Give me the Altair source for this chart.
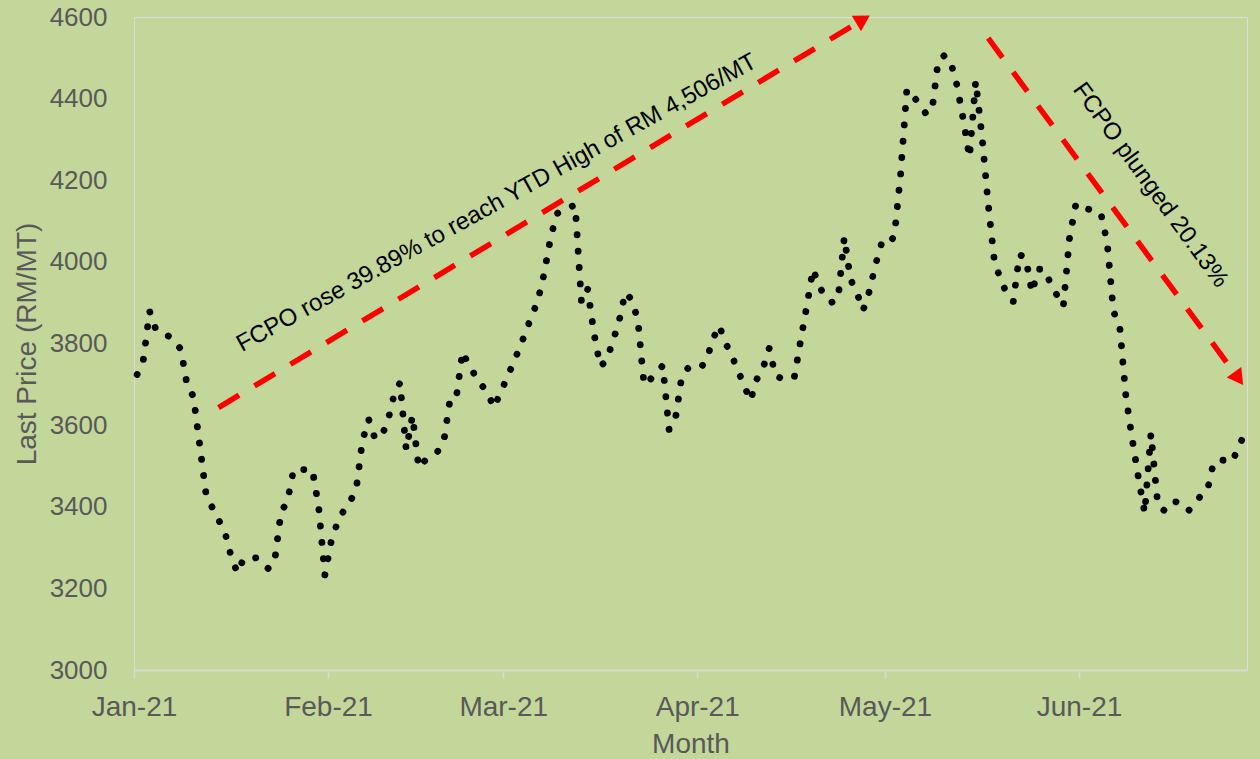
import altair as alt
import pandas as pd

# ---- price path (date, last price RM/MT) ----
dates = [
    "2021-01-01", "2021-01-02", "2021-01-03", "2021-01-04", "2021-01-05", "2021-01-07", "2021-01-08",
    "2021-01-09", "2021-01-10", "2021-01-12", "2021-01-13", "2021-01-15", "2021-01-16", "2021-01-17",
    "2021-01-18", "2021-01-20", "2021-01-22", "2021-01-23", "2021-01-24", "2021-01-25", "2021-01-26",
    "2021-01-29", "2021-01-30", "2021-01-31",
    "2021-02-01", "2021-02-02", "2021-02-03", "2021-02-04", "2021-02-05", "2021-02-06", "2021-02-07",
    "2021-02-08", "2021-02-09", "2021-02-10", "2021-02-11", "2021-02-12", "2021-02-13", "2021-02-14",
    "2021-02-15", "2021-02-16", "2021-02-18", "2021-02-19", "2021-02-20", "2021-02-21", "2021-02-22",
    "2021-02-23", "2021-02-25", "2021-02-26", "2021-02-27", "2021-02-28",
    "2021-03-02", "2021-03-03", "2021-03-04", "2021-03-05", "2021-03-06", "2021-03-07", "2021-03-08",
    "2021-03-09", "2021-03-10", "2021-03-12", "2021-03-13", "2021-03-14", "2021-03-15", "2021-03-16",
    "2021-03-17", "2021-03-18", "2021-03-19", "2021-03-20", "2021-03-21", "2021-03-22", "2021-03-23",
    "2021-03-24", "2021-03-26", "2021-03-27", "2021-03-28", "2021-03-29", "2021-03-30",
    "2021-04-01", "2021-04-02", "2021-04-03", "2021-04-04", "2021-04-05", "2021-04-06", "2021-04-07",
    "2021-04-08", "2021-04-09", "2021-04-10", "2021-04-11", "2021-04-12", "2021-04-13", "2021-04-14",
    "2021-04-16", "2021-04-17", "2021-04-18", "2021-04-19", "2021-04-20", "2021-04-21", "2021-04-22",
    "2021-04-23", "2021-04-24", "2021-04-25", "2021-04-26", "2021-04-27", "2021-04-28", "2021-04-29",
    "2021-04-30",
    "2021-05-01", "2021-05-02", "2021-05-03", "2021-05-04", "2021-05-05", "2021-05-06", "2021-05-07",
    "2021-05-08", "2021-05-09", "2021-05-10", "2021-05-11", "2021-05-12", "2021-05-13", "2021-05-14",
    "2021-05-15", "2021-05-16", "2021-05-17", "2021-05-18", "2021-05-19", "2021-05-20", "2021-05-21",
    "2021-05-22", "2021-05-23", "2021-05-24", "2021-05-25", "2021-05-26", "2021-05-27", "2021-05-28",
    "2021-05-29", "2021-05-30", "2021-05-31",
    "2021-06-01", "2021-06-02", "2021-06-03", "2021-06-04", "2021-06-05", "2021-06-06", "2021-06-07",
    "2021-06-08", "2021-06-09", "2021-06-10", "2021-06-11", "2021-06-12", "2021-06-13", "2021-06-14",
    "2021-06-15", "2021-06-16", "2021-06-17", "2021-06-18", "2021-06-19", "2021-06-20", "2021-06-21",
    "2021-06-22", "2021-06-23", "2021-06-24", "2021-06-25", "2021-06-26", "2021-06-27",
]
prices = [
    3724, 3761, 3879, 3834, 3829, 3807, 3785,
    3697, 3670, 3432, 3398, 3339, 3280, 3238,
    3272, 3275, 3248, 3270, 3388, 3412, 3491,
    3491, 3400, 3233,
    3314, 3361, 3390, 3412, 3442, 3562, 3614,
    3567, 3572, 3606, 3670, 3704, 3540, 3623,
    3496, 3513, 3535, 3560, 3663, 3667, 3780,
    3746, 3699, 3680, 3643, 3677,
    3748, 3785, 3824, 3866, 3903, 3969, 4053,
    4117, 4128, 4139, 3901, 3933, 3825, 3744,
    3758, 3805, 3854, 3925, 3908, 3859, 3699,
    3712, 3746, 3589, 3614, 3717, 3739,
    3739, 3761, 3810, 3844, 3802, 3771, 3734,
    3697, 3660, 3712, 3739, 3788, 3721, 3714,
    3716, 3805, 3891, 3982, 3940, 3913, 3901,
    3908, 4060, 3957, 3925, 3881, 3928, 3994,
    4048,
    4043, 4063, 4215, 4423, 4406, 4387, 4364,
    4369, 4492, 4506, 4490, 4433, 4350, 4256,
    4443, 4308, 4141, 3999, 3957, 3920, 3903,
    4018, 4009, 3925, 3982, 3982, 3945, 3918,
    3891, 4060, 4141,
    4141, 4129, 4124, 4119, 4048, 3879, 3844,
    3670, 3567, 3471, 3385, 3579, 3420, 3390,
    3412, 3412, 3402, 3390, 3410, 3427, 3439,
    3508, 3515, 3513, 3510, 3547, 3579,
]

# ---- annotation arrows (start / end in data units) ----
arrow_start_dates = ["2021-01-14", "2021-05-17"]
arrow_start_prices = [3643, 4548]
arrow_end_dates = ["2021-04-27", "2021-06-26"]
arrow_end_prices = [4594, 3714]
arrow_angles = [59, 144]

# ---- annotation texts ----
note_texts = ["FCPO rose 39.89% to reach YTD High of RM 4,506/MT", "FCPO plunged 20.13%"]
note_dates = ["2021-02-28", "2021-06-11"]
note_prices = [4129, 4178]
note_angles = [331, 54]

y_ticks = [3000, 3200, 3400, 3600, 3800, 4000, 4200, 4400, 4600]
month_starts = [alt.DateTime(year=2021, month=m, date=1, utc=True) for m in range(1, 7)]

FONT = "Liberation Sans"
GREY = "#595959"
BG = "#C4D79B"
RED = "#FF0000"
MID_DAY = "time(datum.{}) + 43200000"

price_df = pd.DataFrame({"date": dates, "price": prices})
arrow_df = pd.DataFrame({
    "d1": arrow_start_dates, "p1": arrow_start_prices,
    "d2": arrow_end_dates, "p2": arrow_end_prices, "angle": arrow_angles,
})
note_df = pd.DataFrame({"label": note_texts, "date": note_dates, "price": note_prices, "angle": note_angles})

x_scale = alt.Scale(
    type="utc",
    domain=[alt.DateTime(year=2021, month=1, date=1, utc=True),
            alt.DateTime(year=2021, month=6, date=27, hours=20, minutes=24, utc=True)],
)
y_scale = alt.Scale(domain=[3000, 4600], nice=False, zero=False)

x_axis = alt.Axis(
    values=month_starts, labelExpr="utcFormat(datum.value, '%b-%y')",
    title="Month", titleFont=FONT, titleFontSize=28, titleColor=GREY, titleFontWeight="normal",
    titleX=556.5, titleY=82, titleBaseline="alphabetic", titleAlign="center",
    labelFont=FONT, labelFontSize=28, labelColor=GREY, labelPadding=15, labelFlush=False,
    labelOverlap=False, tickSize=8, tickColor="#D9D9D9", tickWidth=1.5,
    domainColor="#D9D9D9", domainWidth=1.5, grid=False,
)
y_axis = alt.Axis(
    values=y_ticks, format="d", title="Last Price (RM/MT)", titleFont=FONT, titleFontSize=28,
    titleColor=GREY, titleFontWeight="normal", titleAngle=270, titleX=-99, titleY=326.5,
    titleBaseline="alphabetic", titleAlign="center",
    labelFont=FONT, labelFontSize=26, labelColor=GREY, labelPadding=27, labelFlush=False,
    ticks=False, domain=False, grid=False,
)

line = alt.Chart(price_df).transform_calculate(
    t=MID_DAY.format("date")
).mark_line(
    color="black", strokeWidth=6.8, strokeDash=[0.1, 16.3], strokeCap="round", strokeJoin="round"
).encode(
    x=alt.X("t:T", scale=x_scale, axis=x_axis),
    y=alt.Y("price:Q", scale=y_scale, axis=y_axis),
)

arrows = alt.Chart(arrow_df).transform_calculate(
    t1=MID_DAY.format("d1"), t2=MID_DAY.format("d2")
).mark_rule(color=RED, strokeWidth=5.5, strokeDash=[24, 18]).encode(
    x=alt.X("t1:T", scale=x_scale, axis=x_axis),
    x2="t2:T",
    y=alt.Y("p1:Q", scale=y_scale, axis=y_axis),
    y2="p2:Q",
)

heads = alt.Chart(arrow_df).transform_calculate(
    t2=MID_DAY.format("d2")
).mark_point(shape="triangle-up", filled=True, color=RED, size=324, opacity=1, strokeWidth=0).encode(
    x=alt.X("t2:T", scale=x_scale, axis=x_axis),
    y=alt.Y("p2:Q", scale=y_scale, axis=y_axis),
    angle=alt.Angle("angle:Q", scale=None),
)

notes = alt.Chart(note_df).transform_calculate(
    t=MID_DAY.format("date")
).mark_text(font=FONT, fontSize=24, color="black", align="center", baseline="alphabetic").encode(
    x=alt.X("t:T", scale=x_scale, axis=x_axis),
    y=alt.Y("price:Q", scale=y_scale, axis=y_axis),
    text="label:N",
    angle=alt.Angle("angle:Q", scale=None),
)

chart = alt.layer(line, arrows, heads, notes).properties(
    width=1113,
    height=653,
    autosize=alt.AutoSizeParams(type="none"),
    padding={"left": 134, "top": 17, "right": 13, "bottom": 89},
    background=BG,
).configure_view(strokeWidth=0, stroke="transparent").configure(font=FONT)

chart.save("out.html", embed_options={"renderer": "svg", "actions": False})
